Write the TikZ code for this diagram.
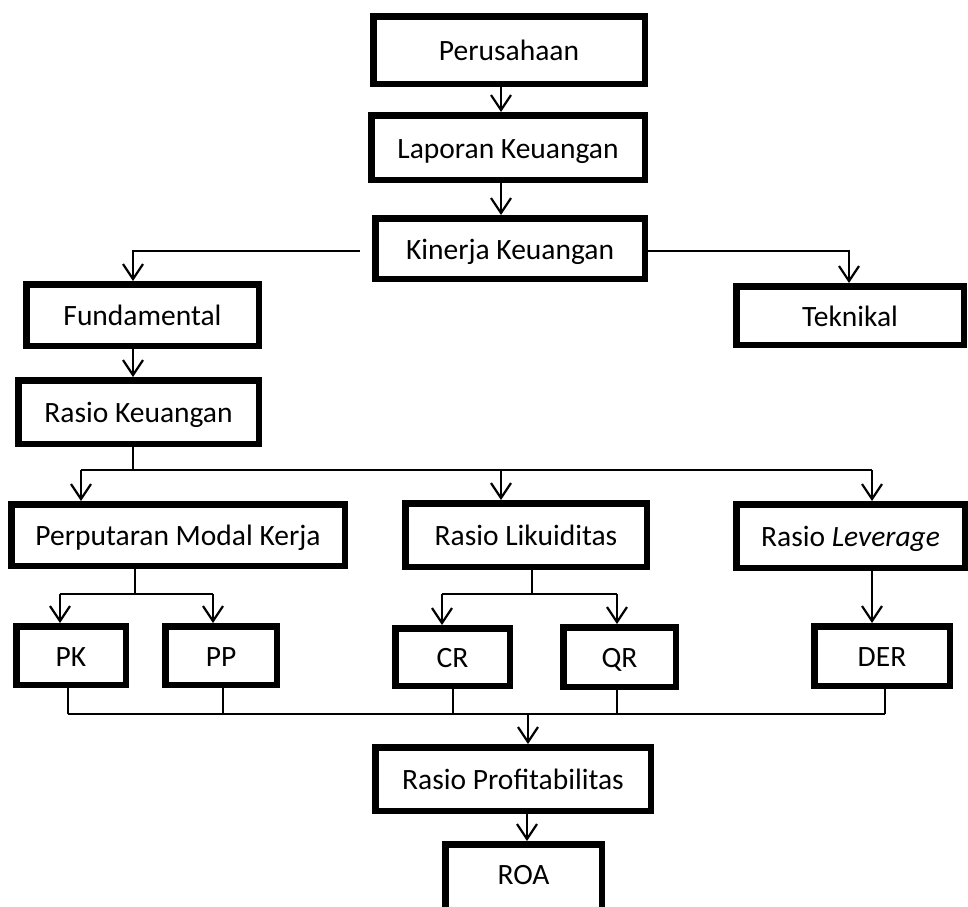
\documentclass[tikz,border=0pt]{standalone}
\usepackage{fontspec}
\setmainfont{Carlito}
\usetikzlibrary{arrows.meta}
\tikzset{
  box/.style={draw=black, line width=6.5pt, inner sep=0pt, align=center,
    text height=21pt, text depth=0pt,
    font=\fontsize{29.5}{34}\selectfont},
  conn/.style={draw=black, line width=2.2pt},
  arr/.style={conn, -{Straight Barb[length=15pt,width=20pt]}},
}
\newcommand{\bx}[6]{% name, cx, cy, w, h, text
  \node[box, minimum width=#4pt-6.5pt, minimum height=#5pt-6.5pt] (#1) at (#2,#3) {#6};}
\begin{document}
\begin{tikzpicture}[x=1pt,y=-1pt]
\useasboundingbox (0,0) rectangle (968,906);
\clip (0,0) rectangle (968,906);
\fill[white] (0,0) rectangle (968,906);
\bx{per}{509}{50}{278}{74}{Perusahaan}
\bx{lap}{508}{147.5}{280}{71}{Laporan Keuangan}
\bx{kin}{510}{248.5}{276}{67}{Kinerja Keuangan}
\bx{fun}{142.5}{315}{239}{68}{Fundamental}
\bx{tek}{850}{315.5}{234}{65}{Teknikal}
\bx{rk}{138.5}{412}{247}{70}{Rasio Keuangan}
\bx{pmk}{178}{535}{340}{68}{Perputaran Modal Kerja}
\bx{rl}{526}{535}{248}{70}{Rasio Likuiditas}
\bx{rlev}{850.5}{536}{235}{70}{Rasio \textit{Leverage}}
\bx{pk}{71}{655.5}{116}{65}{PK}
\bx{pp}{221}{655.5}{118}{65}{PP}
\bx{cr}{452.5}{657}{121}{64}{CR}
\bx{qr}{619.5}{657}{119}{66}{QR}
\bx{der}{882}{656}{142}{66}{DER}
\bx{rp}{513}{779}{282}{70}{Rasio Profitabilitas}
\node[box, minimum width=163pt-6.5pt, minimum height=74pt-6.5pt, text depth=8pt] (roa) at (523.5,878) {ROA};

% top chain
\draw[arr] (per.south -| 501,0) -- (lap.north -| 501,0);
\draw[arr] (lap.south -| 501,0) -- (kin.north -| 501,0);
% kinerja branches
\coordinate (kl) at ([xshift=-12pt]kin.west |- 0,251);
\draw[arr] (kl) -- (133,251) -- (fun.north -| 133,0);
\draw[arr] (kin.east |- 0,251) -- (849,251) -- (tek.north -| 849,0);
% fundamental to rasio keuangan
\draw[arr] (fun.south -| 133,0) -- (rk.north -| 133,0);
% rasio keuangan branches
\coordinate (rkb) at (133,470);
\draw[conn] (rk.south -| 133,0) -- (rkb);
\draw[conn] (81,470) -- (872,470);
\draw[arr] (81,470) -- (pmk.north -| 81,0);
\draw[arr] (501,470) -- (rl.north -| 501,0);
\draw[arr] (872,470) -- (rlev.north -| 872,0);
% perputaran branches
\draw[conn] (pmk.south -| 135,0) -- (135,594);
\draw[conn] (60,594) -- (213,594);
\draw[arr] (60,594) -- (pk.north -| 60,0);
\draw[arr] (213,594) -- (pp.north -| 213,0);
% likuiditas branches
\draw[conn] (rl.south -| 532,0) -- (532,594);
\draw[conn] (442,594) -- (617,594);
\draw[arr] (442,594) -- (cr.north -| 442,0);
\draw[arr] (617,594) -- (qr.north -| 617,0);
% leverage to DER
\draw[arr] (rlev.south -| 872,0) -- (der.north -| 872,0);
% collect to profitabilitas
\draw[conn] (pk.south -| 68,0) -- (68,714);
\draw[conn] (pp.south -| 223,0) -- (223,714);
\draw[conn] (cr.south -| 453,0) -- (453,714);
\draw[conn] (qr.south -| 617,0) -- (617,714);
\draw[conn] (der.south -| 885,0) -- (885,714);
\draw[conn] (68,714) -- (885,714);
\draw[arr] (528,714) -- (rp.north -| 528,0);
\draw[arr] (rp.south -| 527,0) -- (roa.north -| 527,0);
\end{tikzpicture}
\end{document}
